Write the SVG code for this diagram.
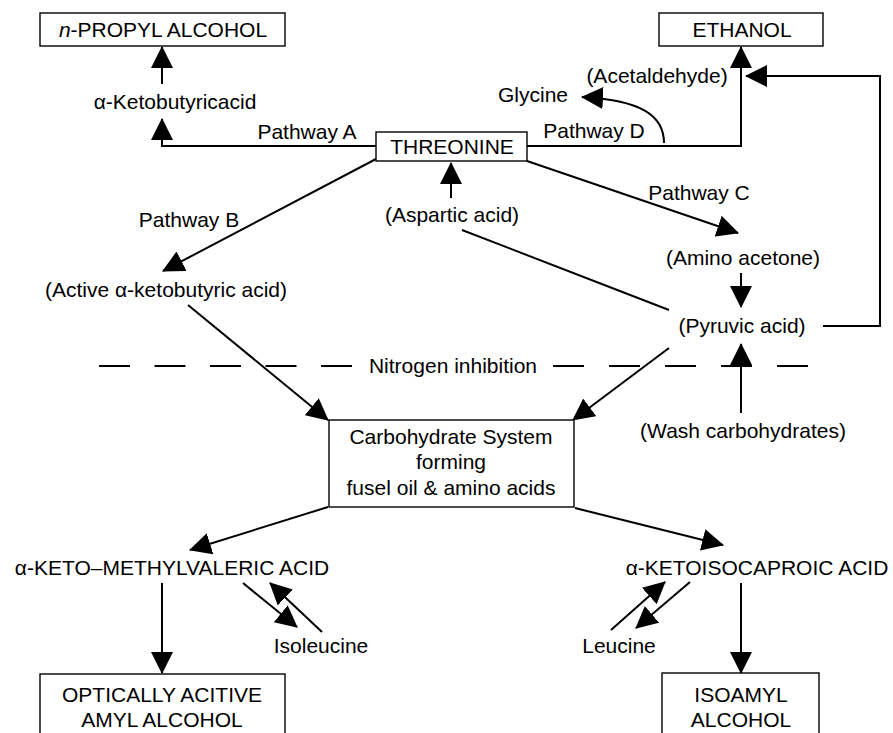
<svg xmlns="http://www.w3.org/2000/svg" width="893" height="733" viewBox="0 0 893 733">
<style>
text{font-family:"Liberation Sans",Arial,sans-serif;font-size:21px;fill:#000;text-anchor:middle}
.box{fill:#fff;stroke:#000;stroke-width:1.4}
.c{fill:none;stroke:#000;stroke-width:2}
.a{marker-end:url(#ah)}
.d{fill:none;stroke:#000;stroke-width:2}
</style>
<defs>
<marker id="ah" viewBox="0 0 22 22" refX="21" refY="11" markerWidth="22" markerHeight="22" markerUnits="userSpaceOnUse" orient="auto">
<path d="M0,0 L22,11 L0,22 z" fill="#000"/>
</marker>
</defs>
<rect width="893" height="733" fill="#fff"/>
<g id="connectors">
<path class="c a" d="M162,84 L162,47"/>
<path class="c a" d="M376,146 L162,146 L162,119"/>
<path class="c a" d="M527,146 L741,146 L741,47"/>
<path class="c a" d="M664,143 C664,115 640,100 582,97"/>
<path class="c a" d="M527,161 L738,233"/>
<path class="c a" d="M451,198 L451,163"/>
<path class="c" d="M462,230 L669,310"/>
<path class="c a" d="M376,159 L163,271"/>
<path class="c a" d="M188,305 L328,420"/>
<path class="c a" d="M741,273 L741,307"/>
<path class="c a" d="M741,413 L741,344"/>
<path class="c a" d="M823,326 L880,326 L880,76 L746,76"/>
<path class="c a" d="M669,348 L573,420"/>
<path class="c a" d="M328,507 L190,550"/>
<path class="c a" d="M575,508 L723,545"/>
<path class="c a" d="M162,583 L162,673"/>
<path class="c a" d="M243,583 L297,627"/>
<path class="c a" d="M322,632 L270,583"/>
<path class="c a" d="M741,583 L741,673"/>
<path class="c a" d="M611,630 L665,582"/>
<path class="c a" d="M690,582 L636,628"/>
<path class="d" stroke-dasharray="31 24.5" d="M99,366 L353,366"/>
<path class="d" stroke-dasharray="31 25" d="M553,366 L809,366"/>
</g>
<g id="n-propyl">
<rect class="box" x="40" y="13" width="245" height="33"/>
<text x="163" y="37"><tspan font-style="italic">n</tspan>-PROPYL ALCOHOL</text>
</g>
<g id="ethanol">
<rect class="box" x="659" y="13" width="164" height="33"/>
<text x="742" y="37">ETHANOL</text>
</g>
<g id="threonine">
<rect class="box" x="376" y="132" width="151" height="29"/>
<text x="452" y="154">THREONINE</text>
</g>
<g id="ketobutyric"><text x="175" y="109">α-Ketobutyricacid</text></g>
<g id="pathway-a"><text x="307" y="139">Pathway A</text></g>
<g id="pathway-d"><text x="594" y="138">Pathway D</text></g>
<g id="glycine"><text x="533" y="102">Glycine</text></g>
<g id="acetaldehyde"><text x="657" y="83">(Acetaldehyde)</text></g>
<g id="pathway-b"><text x="189" y="227">Pathway B</text></g>
<g id="aspartic"><text x="452" y="222">(Aspartic acid)</text></g>
<g id="pathway-c"><text x="699" y="200">Pathway C</text></g>
<g id="amino-acetone"><text x="743" y="265">(Amino acetone)</text></g>
<g id="active-keto"><text x="166" y="297">(Active α-ketobutyric acid)</text></g>
<g id="pyruvic"><text x="742" y="333">(Pyruvic acid)</text></g>
<g id="nitrogen"><text x="453" y="373">Nitrogen inhibition</text></g>
<g id="wash"><text x="743" y="438">(Wash carbohydrates)</text></g>
<g id="carbohydrate">
<rect class="box" x="329" y="420" width="245" height="87"/>
<text x="451" y="444">Carbohydrate System</text>
<text x="451" y="469">forming</text>
<text x="451" y="495">fusel oil &amp; amino acids</text>
</g>
<g id="methylvaleric"><text x="172" y="575">α-KETO–METHYLVALERIC ACID</text></g>
<g id="ketoisocaproic"><text x="757" y="575">α-KETOISOCAPROIC ACID</text></g>
<g id="isoleucine"><text x="321" y="653">Isoleucine</text></g>
<g id="leucine"><text x="619" y="653">Leucine</text></g>
<g id="amyl">
<rect class="box" x="40" y="674" width="245" height="70"/>
<text x="162" y="702">OPTICALLY ACITIVE</text>
<text x="162" y="727">AMYL ALCOHOL</text>
</g>
<g id="isoamyl">
<rect class="box" x="662" y="673" width="157" height="70"/>
<text x="741" y="702">ISOAMYL</text>
<text x="741" y="727">ALCOHOL</text>
</g>
</svg>
